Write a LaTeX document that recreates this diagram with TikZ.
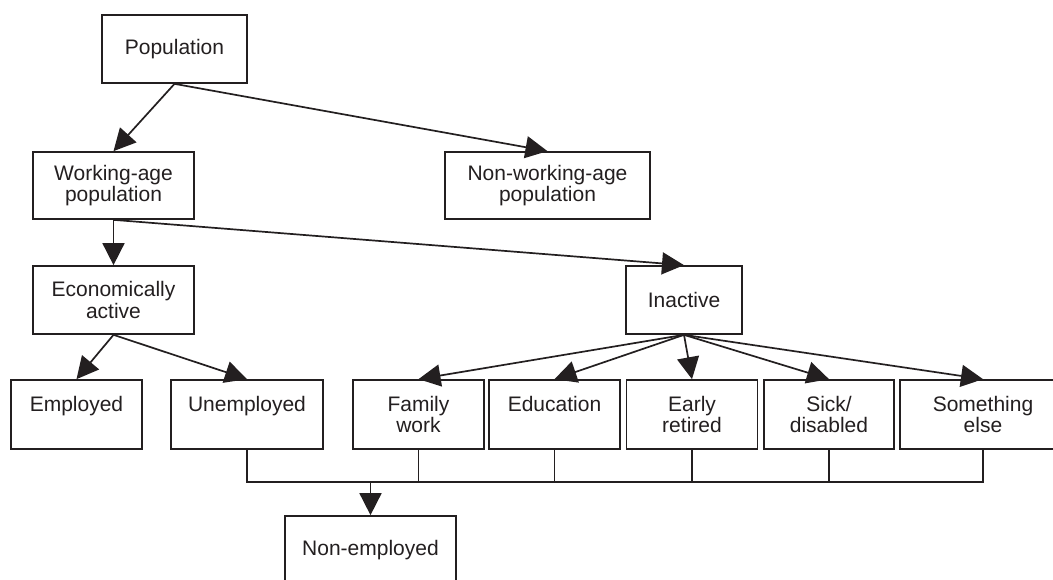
\documentclass[tikz,border=0pt]{standalone}
\usepackage{fontspec}
\setmainfont{Liberation Sans}
\usetikzlibrary{arrows.meta}
\definecolor{ink}{HTML}{231F20}
\begin{document}
\begin{tikzpicture}[x=1pt,y=-1pt,
  box/.style={draw=ink,line width=1.7pt,rectangle,inner sep=0pt,align=center,text=ink,
    font=\fontsize{21}{21.5}\selectfont},
  conn/.style={draw=ink,line width=1.7pt},
  arr/.style={conn,arrows={-Triangle[length=22pt,width=22pt]}}]
\clip (0,0) rectangle (1053,580);
\fill[white] (0,0) rectangle (1053,580);
% top
\node[box,minimum width=145pt,minimum height=68pt] (pop) at (174.5,49) {Population};
\node[box,minimum width=161pt,minimum height=67pt] (wap) at (113.5,185.5) {Working-age\\population};
\node[box,minimum width=205pt,minimum height=67pt] (nwap) at (547.5,185.5) {Non-working-age\\population};
\node[box,minimum width=161pt,minimum height=68pt] (econ) at (113.5,300) {Economically\\active};
\node[box,minimum width=116pt,minimum height=68pt] (inact) at (684,300) {Inactive};
% bottom row
\node[box,minimum width=131pt,minimum height=69pt] (empl) at (76.5,414.5) {Employed\\\mbox{}};
\node[box,minimum width=152pt,minimum height=69pt] (unem) at (247,414.5) {Unemployed\\\mbox{}};
\node[box,minimum width=131pt,minimum height=69pt] (fam) at (418.5,414.5) {Family\\work};
\node[box,minimum width=131pt,minimum height=69pt] (edu) at (554.5,414.5) {Education\\\mbox{}};
\node[box,minimum width=131pt,minimum height=69pt] (early) at (692,414.5) {Early\\retired};
\node[box,minimum width=130pt,minimum height=69pt] (sick) at (829,414.5) {Sick/\\disabled};
\node[box,minimum width=166pt,minimum height=69pt] (else) at (983,414.5) {Something\\else};
\node[box,minimum width=171pt,minimum height=69pt] (nonemp) at (370.5,550.5) {Non-employed};
% arrows
\draw[arr] (pop.south) -- (wap.north);
\draw[arr] (pop.south) -- (nwap.north);
\draw[arr] (wap.south) -- (econ.north);
\draw[arr] (wap.south) -- (inact.north);
\draw[arr] (econ.south) -- (empl.north);
\draw[arr] (econ.south) -- (unem.north);
\foreach \t in {fam,edu,early,sick,else}
  \draw[arr] (inact.south) -- (\t.north);
% bus
\coordinate (bus) at (0,482);
\draw[conn] (unem.south) -- (unem.south |- bus) -| (else.south);
\foreach \t in {fam,edu,early,sick}
  \draw[conn] (\t.south) -- (\t.south |- bus);
\draw[arr] (nonemp.north |- bus) -- (nonemp.north);
\end{tikzpicture}
\end{document}
